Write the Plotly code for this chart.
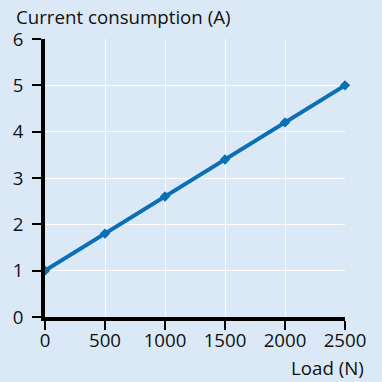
import plotly.graph_objects as go

# Load vs current consumption
load_n = [0, 500, 1000, 1500, 2000, 2500]
current_a = [1.0, 1.8, 2.6, 3.4, 4.2, 5.0]
x_ticks = [0, 500, 1000, 1500, 2000, 2500]
y_ticks = [0, 1, 2, 3, 4, 5, 6]

BG = "#dbe9f7"
LINE = "#0a6fb5"
FONT = "Open Sans"
TXT = "#111111"

fig = go.Figure(
    go.Scatter(
        x=load_n, y=current_a, mode="lines+markers",
        line=dict(color=LINE, width=4),
        marker=dict(symbol="diamond", size=8, color=LINE),
        cliponaxis=False,
    )
)

axis_common = dict(
    showline=True, linecolor="black", linewidth=3.5,
    ticks="outside", tickcolor="black", ticklen=9, tickwidth=2,
    showgrid=True, gridcolor="white", gridwidth=1,
    zeroline=False,
    tickfont=dict(family=FONT, size=18.7, color=TXT),
)

fig.update_xaxes(range=[0, 2500], tickvals=x_ticks, ticklabelstandoff=-5, **axis_common)
fig.update_yaxes(range=[0, 6], tickvals=y_ticks, ticklabelstandoff=5, **axis_common)

fig.update_layout(
    width=382, height=382,
    margin=dict(l=45, r=37, t=39, b=65),
    paper_bgcolor=BG, plot_bgcolor=BG,
    showlegend=False,
    font=dict(family=FONT, size=18.7, color=TXT),
    annotations=[
        dict(text="Current consumption (A)", xref="paper", yref="paper",
             x=-0.104, y=1.0, yshift=23, xanchor="left", yanchor="middle",
             showarrow=False, font=dict(family=FONT, size=18.7, color=TXT)),
        dict(text="Load (N)", xref="paper", yref="paper",
             x=1.07, y=0, yshift=-50, xanchor="right", yanchor="middle",
             showarrow=False, font=dict(family=FONT, size=18.7, color=TXT)),
    ],
)

fig.write_html("out.html")
